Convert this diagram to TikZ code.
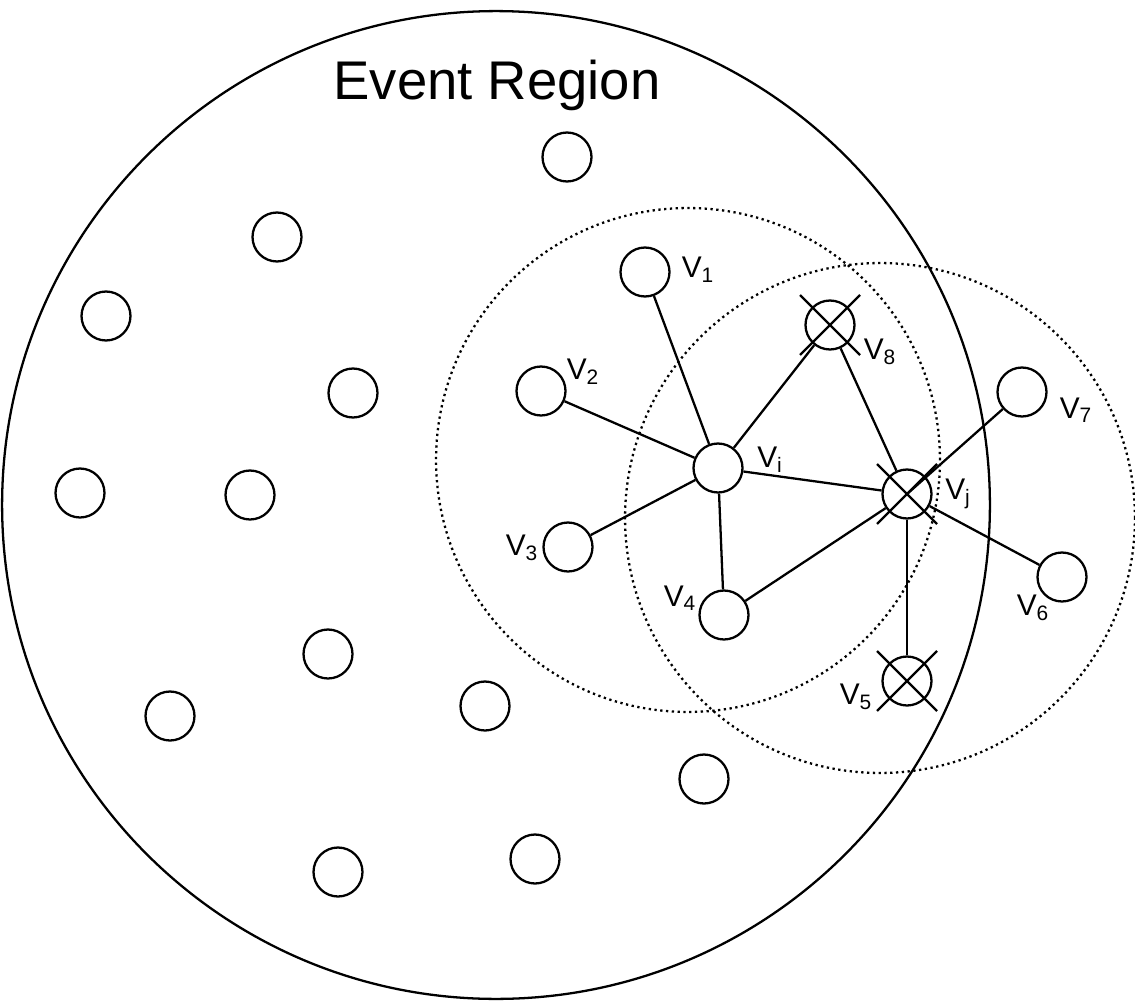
\documentclass[tikz,border=0pt]{standalone}
\usepackage{fontspec}
\setmainfont{Liberation Sans}
\usetikzlibrary{calc}
\begin{document}
\begin{tikzpicture}[x=0.02cm,y=-0.02cm,
  nd/.style={circle,draw,line width=1.3pt,minimum size=0.98cm,inner sep=0pt,fill=white},
  lab/.style={font=\fontsize{17}{17}\selectfont,inner sep=0pt},
  ed/.style={line width=1.3pt},
  dot/.style={dotted,line width=1.3pt}]
\useasboundingbox (0,0) rectangle (1135,1000);
\node[draw,circle,line width=1.3pt,minimum size=19.76cm,inner sep=0pt] (region) at (496,505) {};
\node[font=\fontsize{31}{31}\selectfont] (title) at (497,85) {Event Region};
\node[draw,circle,dot,minimum size=10.08cm,inner sep=0pt] (ri) at (688,460) {};
\node[draw,circle,dot,minimum size=10.2cm,inner sep=0pt] (rj) at (880,518) {};
\node[nd] (vi) at (718,468) {}; \node[nd] (vj) at (907,494) {};
\node[nd] (v1) at (645,272) {}; \node[nd] (v2) at (541,391) {}; \node[nd] (v3) at (568,547) {};
\node[nd] (v4) at (724,615) {}; \node[nd] (v5) at (907,681) {}; \node[nd] (v6) at (1062,577) {};
\node[nd] (v7) at (1022,392) {}; \node[nd] (v8) at (830,325) {};
\foreach \a in {v1,v2,v3,v4,v8,vj} \draw[ed] (vi) -- (\a);
\foreach \a in {v8,v6,v5,v4} \draw[ed] (vj) -- (\a);
\draw[ed] (vj.center) -- (v7);
\foreach \c in {v8,vj,v5} {
  \draw[ed] ($(\c)+(-30,-30)$) -- ($(\c)+(30,30)$);
  \draw[ed] ($(\c)+(-30,30)$) -- ($(\c)+(30,-30)$);
}
\foreach \x/\y [count=\i] in {567/157,277/237,106/316,353/393,80/493,250/495,328/654,170/716,485/706,704/779,338/872,535/859}
  \node[nd] (n\i) at (\x,\y) {};
\node[lab] (l1) at (698,270) {V\textsubscript{1}};
\node[lab] (l2) at (583,372) {V\textsubscript{2}};
\node[lab] (l3) at (522,548) {V\textsubscript{3}};
\node[lab] (l4) at (680,598) {V\textsubscript{4}};
\node[lab] (l5) at (856,697) {V\textsubscript{5}};
\node[lab] (l6) at (1033,608) {V\textsubscript{6}};
\node[lab] (l7) at (1076,410) {V\textsubscript{7}};
\node[lab] (l8) at (880,352) {V\textsubscript{8}};
\node[lab] (li) at (770,460) {V\textsubscript{i}};
\node[lab] (lj) at (958,494) {V\textsubscript{j}};
\end{tikzpicture}
\end{document}
